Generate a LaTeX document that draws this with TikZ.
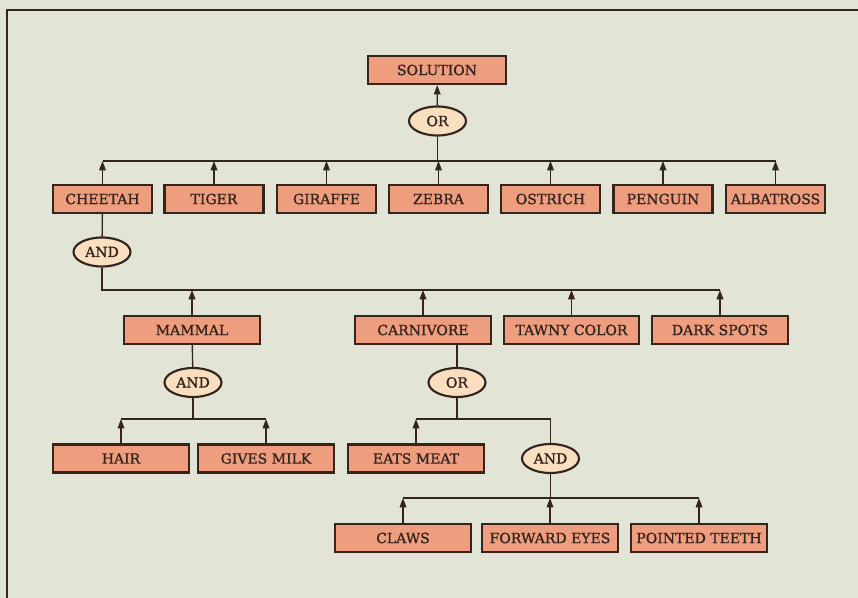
\documentclass[tikz,border=0pt]{standalone}
\usepackage{fontspec}
\setmainfont{DejaVu Serif}
\newfontfamily\lblfont{DejaVu Serif}[FakeBold=1.2]
\usetikzlibrary{arrows.meta,shapes.geometric}
\definecolor{bg}{RGB}{226,228,214}
\definecolor{boxfill}{RGB}{238,158,126}
\definecolor{ovalfill}{RGB}{250,222,192}
\definecolor{ink}{RGB}{52,36,30}
\begin{document}
\begin{tikzpicture}[x=0.75pt,y=-0.75pt,
  factbox/.style={draw=ink,fill=boxfill,line width=1.6pt,minimum height=21pt,inner sep=0pt,text=ink,font=\lblfont\fontsize{10.5}{12}\selectfont},
  w1/.style={minimum width=74.25pt},
  w2/.style={minimum width=101.5pt},
  gate/.style={ellipse,draw=ink,fill=ovalfill,line width=1.6pt,minimum width=42.75pt,minimum height=21.75pt,inner sep=0pt,text=ink,font=\lblfont\fontsize{10.5}{12}\selectfont},
  wire/.style={draw=ink,line width=1pt},
  up/.style={wire,-{Triangle[length=7pt,width=5pt]}}]
\useasboundingbox (0,0) rectangle (858,598);
\fill[bg] (0,0) rectangle (858,598);
\draw[ink,line width=1.6pt] (858,10) -- (7,10) -- (7,598);
% nodes
\node[factbox,minimum width=103.5pt] (sol) at (437,70) {SOLUTION};
\node[gate] (or1) at (437.5,121) {OR};
\node[factbox,w1] (cheetah) at (102.5,199) {CHEETAH};
\node[factbox,w1] (tiger) at (214,199) {TIGER};
\node[factbox,w1] (giraffe) at (326.5,199) {GIRAFFE};
\node[factbox,w1] (zebra) at (438.5,199) {ZEBRA};
\node[factbox,w1] (ostrich) at (550.5,199) {OSTRICH};
\node[factbox,w1] (penguin) at (663,199) {PENGUIN};
\node[factbox,w1] (albatross) at (775.5,199) {ALBATROSS};
\node[gate] (and1) at (102,252) {AND};
\node[factbox,w2] (mammal) at (192,330) {MAMMAL};
\node[factbox,w2] (carn) at (423,330) {CARNIVORE};
\node[factbox,w2] (tawny) at (571.5,330) {TAWNY COLOR};
\node[factbox,w2] (dark) at (720,330) {DARK SPOTS};
\node[gate] (and2) at (193,382.5) {AND};
\node[gate] (or2) at (457,382.5) {OR};
\node[factbox,w2] (hair) at (121,458.5) {HAIR};
\node[factbox,w2] (milk) at (266,458.5) {GIVES MILK};
\node[factbox,w2] (eats) at (416,458.5) {EATS MEAT};
\node[gate] (and3) at (550.5,458.5) {AND};
\node[factbox,w2] (claws) at (403,538) {CLAWS};
\node[factbox,w2] (eyes) at (550,538) {FORWARD EYES};
\node[factbox,w2] (teeth) at (699,538) {POINTED TEETH};
% bus levels
\coordinate (b1) at (0,161);
\coordinate (b2) at (0,290);
\coordinate (b3) at (0,419);
\coordinate (b4) at (0,498);
% level 1
\draw[up] (or1) -- (sol);
\draw[wire] (or1) -- (or1 |- b1);
\draw[wire] (cheetah.north |- b1) -- (albatross.north |- b1);
\foreach \n in {cheetah,tiger,giraffe,zebra,ostrich,penguin,albatross}
  \draw[up] (\n.north) -- (\n.north |- b1);
% level 2
\draw[wire] (cheetah) -- (and1);
\draw[wire] (and1) |- (dark.north |- b2);
\foreach \n in {mammal,carn,tawny,dark}
  \draw[up] (\n.north) -- (\n.north |- b2);
% mammal
\draw[wire] (mammal) -- (and2);
\draw[wire] (and2) -- (and2 |- b3);
\draw[wire] (hair.north |- b3) -- (milk.north |- b3);
\foreach \n in {hair,milk}
  \draw[up] (\n.north) -- (\n.north |- b3);
% carnivore
\draw[wire] (carn.south -| or2) -- (or2);
\draw[wire] (or2) -- (or2 |- b3);
\draw[wire] (eats.north |- b3) -| (and3);
\draw[up] (eats.north) -- (eats.north |- b3);
\draw[wire] (and3) -- (and3 |- b4);
\draw[wire] (claws.north |- b4) -- (teeth.north |- b4);
\foreach \n in {claws,eyes,teeth}
  \draw[up] (\n.north) -- (\n.north |- b4);
\end{tikzpicture}
\end{document}
